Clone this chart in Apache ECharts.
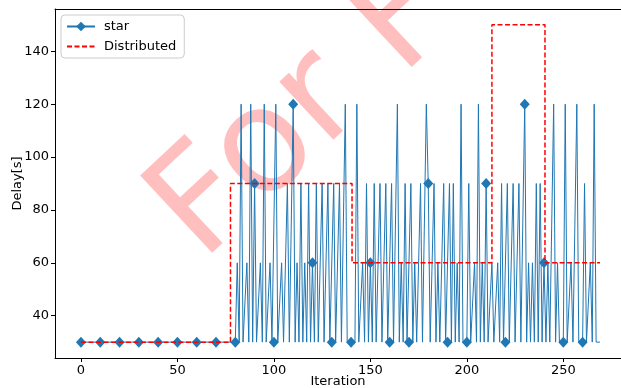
<!DOCTYPE html>
<html>
<head>
<meta charset="utf-8">
<script src="https://cdn.jsdelivr.net/npm/echarts@6/dist/echarts.min.js"></script>
<style>
  html, body { margin: 0; padding: 0; background: #fff; overflow: hidden; }
  #main { width: 621px; height: 388px; }
</style>
</head>
<body>
<div id="main"></div>
<script>
// star: delay per iteration (0..269)
var star = [
  30, 30, 30, 30, 30, 30, 30, 30, 30, 30,
  30, 30, 30, 30, 30, 30, 30, 30, 30, 30,
  30, 30, 30, 30, 30, 30, 30, 30, 30, 30,
  30, 30, 30, 30, 30, 30, 30, 30, 30, 30,
  30, 30, 30, 30, 30, 30, 30, 30, 30, 30,
  30, 30, 30, 30, 30, 30, 30, 30, 30, 30,
  30, 30, 30, 30, 30, 30, 30, 30, 30, 30,
  30, 30, 30, 30, 30, 30, 30, 30, 30, 30,
  30, 60, 30, 120, 30, 30, 60, 30, 120, 30,
  90, 30, 30, 60, 30, 120, 30, 30, 60, 30,
  30, 120, 30, 30, 60, 30, 30, 90, 30, 30,
  120, 30, 60, 30, 90, 30, 60, 30, 90, 30,
  60, 30, 90, 30, 30, 90, 30, 30, 90, 30,
  30, 90, 30, 30, 90, 30, 30, 120, 30, 30,
  30, 30, 30, 120, 30, 30, 60, 30, 90, 30,
  60, 30, 90, 30, 30, 90, 30, 30, 90, 30,
  30, 90, 30, 30, 120, 30, 60, 30, 90, 30,
  30, 90, 30, 60, 30, 30, 90, 30, 30, 120,
  90, 30, 30, 90, 30, 60, 30, 30, 90, 30,
  30, 90, 30, 90, 30, 60, 30, 120, 30, 30,
  30, 90, 30, 30, 60, 30, 120, 30, 60, 30,
  90, 30, 30, 60, 30, 30, 60, 30, 90, 30,
  30, 90, 30, 30, 90, 30, 30, 90, 30, 30,
  120, 30, 60, 30, 60, 30, 90, 30, 90, 30,
  60, 30, 60, 30, 30, 120, 30, 60, 30, 30,
  30, 120, 30, 30, 60, 30, 30, 120, 30, 30,
  30, 90, 30, 30, 60, 30, 120, 30, 30, 30
];

// Distributed: step changes (iteration where the level starts, level)
var distX = [0, 77.5, 140.5, 213, 240.5, 269];
var distY = [30, 90, 60, 150, 60, 60];

var xTicks = [0, 50, 100, 150, 200, 250];
var yTicks = [40, 60, 80, 100, 120, 140];

var font = 'DejaVu Sans';
var axisText = { fontFamily: font, fontSize: 13, color: '#000' };

var starData = star.map(function (v, i) { return [i, v]; });
var distData = distX.map(function (x, i) { return [x, distY[i]]; });

var chart = echarts.init(document.getElementById('main'));
chart.setOption({
  animation: false,
  backgroundColor: '#fff',
  grid: {
    left: 55, right: 0, top: 9, bottom: 30,
    outerBoundsMode: 'none'
  },
  legend: {
    orient: 'vertical',
    left: 61, top: 15,
    padding: [5, 8, 5, 5],
    itemWidth: 28, itemHeight: 12, itemGap: 7,
    borderColor: '#cccccc', borderWidth: 1, borderRadius: 4,
    backgroundColor: 'rgba(255,255,255,0.8)',
    textStyle: { fontFamily: font, fontSize: 13, color: '#000', padding: [0, 0, 0, 4] },
    data: [
      { name: 'star' },
      { name: 'Distributed', itemStyle: { opacity: 0 } }
    ]
  },
  xAxis: [{
    type: 'value',
    min: -13.45, max: 279.9,
    name: 'Iteration', nameLocation: 'middle', nameGap: 17, nameMoveOverlap: false,
    nameTextStyle: axisText,
    axisLine: { show: true, onZero: false, lineStyle: { color: '#000' } },
    axisTick: { show: true, length: 4, lineStyle: { color: '#000' }, customValues: xTicks },
    axisLabel: Object.assign({ margin: 6, customValues: xTicks }, axisText),
    splitLine: { show: false }
  }, {
    type: 'value', position: 'top',
    min: -13.45, max: 279.9,
    axisLine: { show: true, onZero: false, lineStyle: { color: '#000' } },
    axisTick: { show: false }, axisLabel: { show: false }, splitLine: { show: false }
  }],
  yAxis: {
    type: 'value',
    min: 24, max: 156,
    name: 'Delay[s]', nameLocation: 'middle', nameGap: 31, nameRotate: 90, nameMoveOverlap: false,
    nameTextStyle: axisText,
    axisLine: { show: true, onZero: false, lineStyle: { color: '#000' } },
    axisTick: { show: true, length: 4, lineStyle: { color: '#000' }, customValues: yTicks },
    axisLabel: Object.assign({ margin: 6, customValues: yTicks }, axisText),
    splitLine: { show: false }
  },
  graphic: [{
    type: 'text',
    x: 176, y: 235,
    rotation: 0.75,
    z: -10,
    silent: true,
    style: {
      text: 'For F',
      fontFamily: font, fontSize: 145,
      fill: 'rgba(255,0,0,0.25)',
      align: 'left', verticalAlign: 'middle'
    }
  }, {
    // the figure is cut at the right, so no right-hand frame edge
    type: 'rect',
    z: 100,
    silent: true,
    shape: { x: 618.5, y: 10, width: 4, height: 347 },
    style: { fill: '#fff' }
  }],
  series: [
    {
      name: 'star',
      type: 'line',
      data: starData,
      color: '#1f77b4',
      lineStyle: { width: 1, color: '#1f77b4' },
      symbol: 'diamond',
      showAllSymbol: true,
      symbolSize: function (v, p) { return p.dataIndex % 10 === 0 ? [10, 11] : 0; },
      itemStyle: { color: '#1f77b4' },
      z: 3
    },
    {
      name: 'Distributed',
      type: 'line',
      step: 'end',
      data: distData,
      color: '#ff0000',
      symbol: 'none',
      lineStyle: { width: 1.5, color: '#ff0000', type: [5, 2.5] },
      z: 4
    }
  ]
});
</script>
</body>
</html>
